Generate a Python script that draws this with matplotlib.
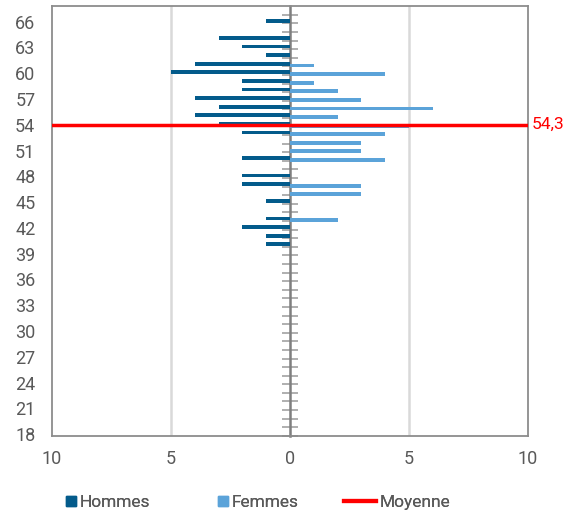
import matplotlib.pyplot as plt
from matplotlib.lines import Line2D
import numpy as np

# ages 66 down to 39 (nothing below 39)
ages = list(range(66, 38, -1))
hommes = [1, 0, 3, 2, 1, 4, 5, 2, 2, 4, 3, 4, 3, 2, 0, 0, 2, 0, 2, 2, 0, 1, 0, 1, 2, 1, 1, 0]
femmes = [0, 0, 0, 0, 0, 1, 4, 1, 2, 3, 6, 2, 5, 4, 3, 3, 4, 0, 0, 3, 3, 0, 0, 2, 0, 0, 0, 0]
moyenne = 54.3
age_labels = list(range(18, 67, 3))
x_ticks = [-10, -5, 0, 5, 10]

dark = '#035b8b'
light = '#5ba3d9'
grey = '#595959'
# category centres sit a bit above the integer age (like the excel source)
off = 0.3

plt.rcParams['font.family'] = ['Roboto', 'DejaVu Sans']

fig = plt.figure(figsize=(5.78, 5.14), dpi=100)
ax = fig.add_axes([0.09, 0.152, 0.8235, 0.836])

y = np.array(ages) + off
ax.barh(y + 0.1, -np.array(hommes), height=0.45, color=dark, zorder=3)
ax.barh(y - 0.1, femmes, height=0.45, color=light, zorder=3)
ax.axhline(moyenne, color='#ff0000', linewidth=2.5, zorder=5)
ax.text(10.15, moyenne, '54,3', color='#ff0000', fontsize=12.5, va='center', ha='left')

ax.set_xlim(-10, 10)
ax.set_ylim(18 + off - 0.2, 68 + off - 0.2)
ax.set_xticks(x_ticks)
ax.set_xticklabels([str(abs(v)) for v in x_ticks])
ax.set_yticks(np.array(age_labels) + off)
ax.set_yticklabels([str(a) for a in age_labels])
ax.tick_params(axis='both', length=0, labelsize=13, labelcolor=grey)
ax.tick_params(axis='x', pad=10)
ax.tick_params(axis='y', pad=12)

for v in [-5, 5]:
    ax.axvline(v, color='#d9d9d9', linewidth=1.8, zorder=1)

for s in ax.spines.values():
    s.set_color('#8c8c8c')
    s.set_linewidth(1.3)

# central axis with ticks crossing it
sec = ax.secondary_yaxis(0.5)
sec.set_yticks(np.arange(18, 68) + off - 0.2)
sec.set_yticklabels([])
sec.tick_params(direction='inout', length=12, width=1.1, color='#9a9a9a')
for s in sec.spines.values():
    s.set_color('#7f7f7f')
    s.set_linewidth(1.8)

# three separate legend entries, spaced like the original
entries = [
    (Line2D([], [], linestyle='none', marker='s', markersize=7.5, color=dark), 'Hommes', 0.114, 0.6),
    (Line2D([], [], linestyle='none', marker='s', markersize=7.5, color=light), 'Femmes', 0.377, 0.6),
    (Line2D([], [], color='#ff0000', linewidth=3), 'Moyenne', 0.595, 1.85),
]
for handle, label, xpos, hl in entries:
    leg = fig.legend([handle], [label], loc='center left', bbox_to_anchor=(xpos, 0.022),
                     frameon=False, fontsize=12.5, handlelength=hl, handletextpad=0.2,
                     borderpad=0, borderaxespad=0, labelcolor=grey)
    fig.add_artist(leg)

fig.savefig('out.png', dpi=100)
